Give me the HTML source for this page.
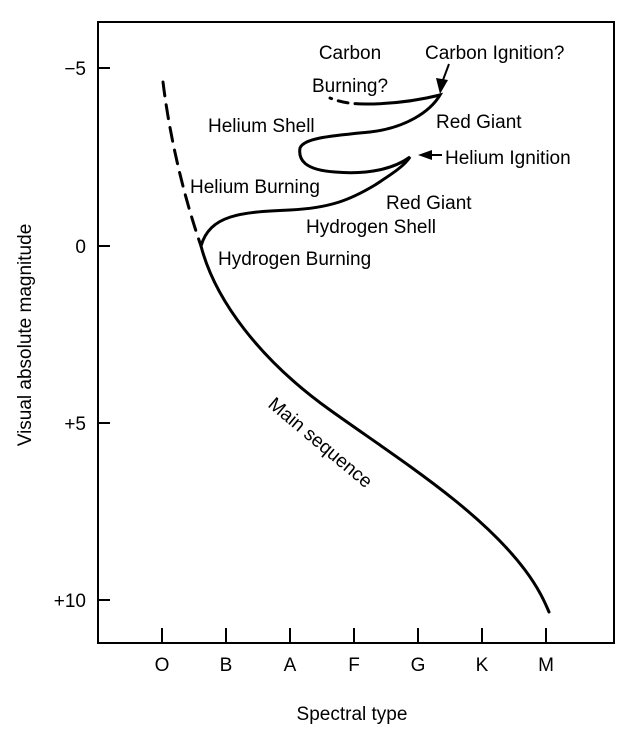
<!DOCTYPE html>
<html><head><style>body{margin:0;background:#fff}</style></head><body>
<svg width="641" height="729" xmlns="http://www.w3.org/2000/svg" font-family="Liberation Sans, sans-serif" font-size="19" fill="#000">
<rect width="641" height="729" fill="#fff"/>
<g stroke="#000" stroke-width="2" fill="none">
<path d="M98 22 H614 V643 H98 Z"/>
<path d="M98 68 H110 M98 246 H110 M98 423 H110 M98 600 H110"/>
<path d="M162 643 V628 M226 643 V628 M290 643 V628 M354 643 V628 M418 643 V628 M482 643 V628 M546 643 V628"/>
</g>
<g stroke="#000" stroke-width="3" fill="none" stroke-linecap="round">
<path d="M163 82 C170 140 185 200 201 246" stroke-dasharray="14 9"/>
<path d="M201 246 C215 300 260 360 330 410 C400 460 480 510 525 570 C540 590 546 605 549 612"/>
<path d="M201 246 C210 215 240 212 290 210 C330 208 350 200 375 185 C395 172 405 165 410 157 C395 168 370 175 335 172 C305 170 298 160 300 148 C304 138 330 136 370 132 C405 128 430 112 440 95 C420 100 395 104 365 104"/>
<path d="M365 104 C350 104 340 102 330 98" stroke-dasharray="10 7"/>
</g>
<path d="M440 94 L436 78 L448 80 Z" fill="#000"/>
<path d="M449 64 L443 80" stroke="#000" stroke-width="2"/>
<path d="M418 155 L432 150 L432 160 Z" fill="#000"/>
<path d="M430 155 H442" stroke="#000" stroke-width="2"/>
<g text-anchor="end">
<text x="86" y="75">−5</text>
<text x="86" y="253">0</text>
<text x="86" y="430">+5</text>
<text x="86" y="607">+10</text>
</g>
<g text-anchor="middle">
<text x="162" y="671">O</text><text x="226" y="671">B</text><text x="290" y="671">A</text><text x="354" y="671">F</text><text x="418" y="671">G</text><text x="482" y="671">K</text><text x="546" y="671">M</text>
<text x="352" y="720">Spectral type</text>
<text transform="translate(31 335) rotate(-90)">Visual absolute magnitude</text>
<text x="350" y="59">Carbon</text>
<text x="350" y="92">Burning?</text>
</g>
<text x="425" y="59">Carbon Ignition?</text>
<text x="436" y="128">Red Giant</text>
<text x="208" y="132">Helium Shell</text>
<text x="445" y="164">Helium Ignition</text>
<text x="190" y="193">Helium Burning</text>
<text x="386" y="209">Red Giant</text>
<text x="306" y="233">Hydrogen Shell</text>
<text x="218" y="265">Hydrogen Burning</text>
<text transform="translate(267 406) rotate(40)">Main sequence</text>
</svg>
</body></html>
